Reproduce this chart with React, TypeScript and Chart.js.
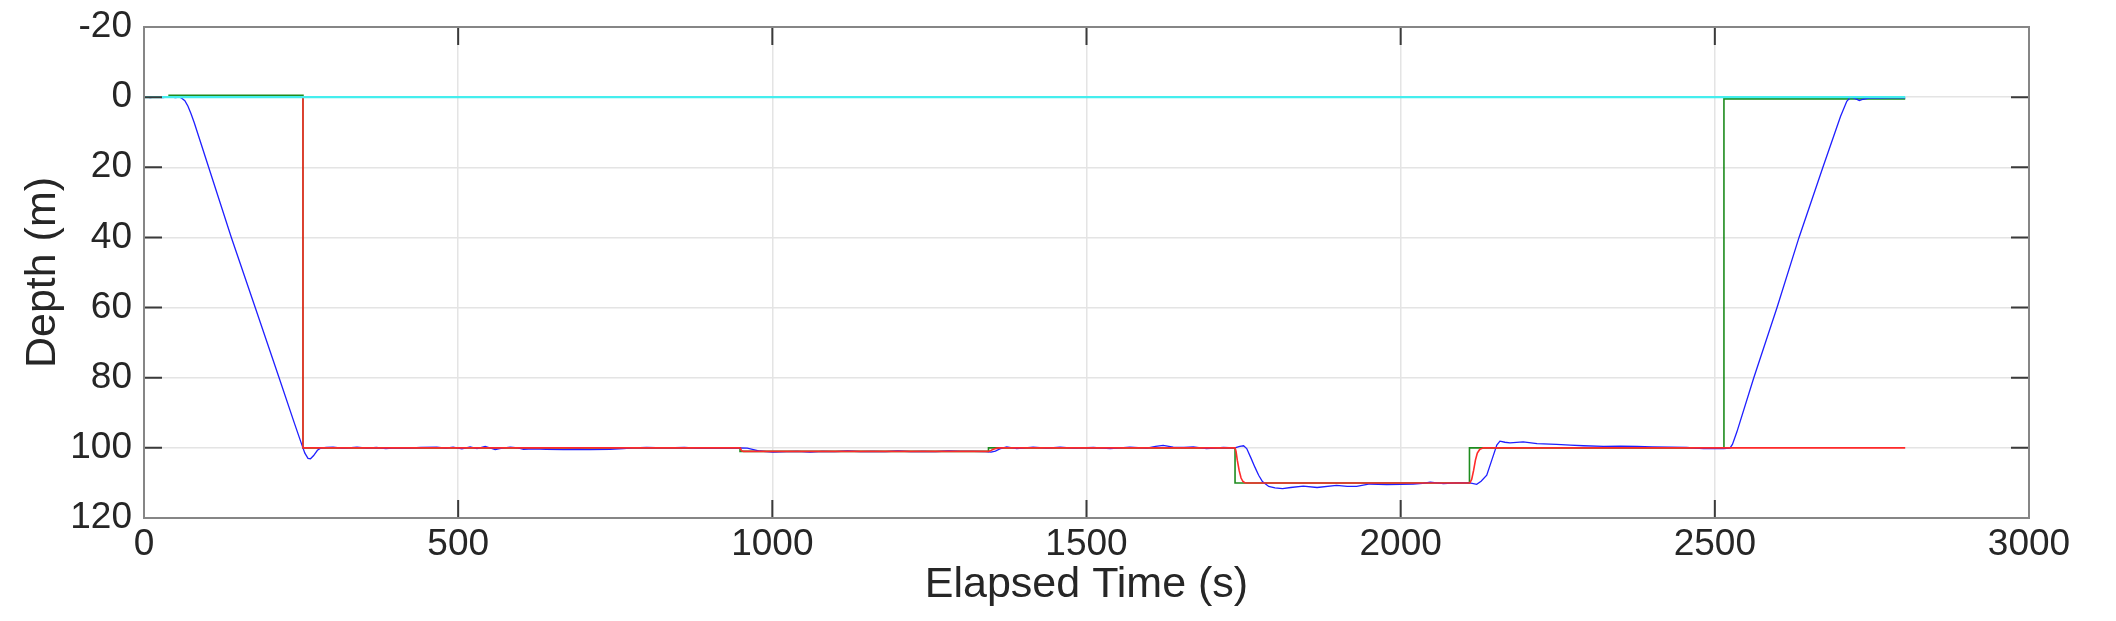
import { useEffect, useRef } from "react";
import { Chart, registerables } from "chart.js";

Chart.register(...registerables);

// measured depth (blue)
const blueTime = [
  0, 10, 20, 30, 40, 50, 57, 60, 65, 70, 75, 80, 102, 139, 177, 215, 240, 250, 256, 261, 265, 270, 276, 281,
  290, 301, 315, 325, 339, 355, 370, 385, 400, 420, 440, 466, 480, 492, 506, 519, 530, 543, 559, 570, 583,
  595, 604, 620, 640, 667, 690, 710, 742, 763, 779, 800, 830, 860, 880, 900, 925, 948, 960, 970, 980, 991,
  1001, 1023, 1040, 1060, 1080, 1100, 1120, 1140, 1160, 1180, 1200, 1220, 1240, 1260, 1280, 1300, 1320,
  1340, 1348, 1355, 1362, 1373, 1389, 1415, 1437, 1458, 1479, 1511, 1538, 1569, 1596, 1610, 1622, 1638,
  1655, 1670, 1691, 1718, 1736, 1744, 1750, 1755, 1762, 1768, 1774, 1780, 1790, 1800, 1812, 1825, 1845,
  1867, 1898, 1915, 1930, 1951, 1978, 2000, 2020, 2035, 2047, 2068, 2089, 2110, 2121, 2128, 2137, 2145,
  2153, 2158, 2166, 2174, 2195, 2217, 2248, 2270, 2291, 2323, 2350, 2376, 2400, 2429, 2455, 2482, 2514,
  2524, 2528, 2535, 2562, 2599, 2634, 2672, 2700, 2710, 2716, 2722, 2730, 2736, 2745, 2760, 2780, 2803,
];
const blueDepth = [
  -0.1, 0.1, -0.1, 0.1, -0.1, 0.1, 0, 0.3, 1.0, 2.6, 4.8, 7.3, 19.5, 40, 60, 80, 93.3, 98.5, 101.5, 103, 103.1,
  102.2, 100.7, 100.1, 99.9, 99.8, 100.1, 100, 99.8, 100.1, 99.9, 100.2, 100, 100.1, 99.9, 99.8, 100.1, 99.8,
  100.3, 99.7, 100.2, 99.6, 100.5, 100.1, 99.8, 100, 100.4, 100.3, 100.4, 100.5, 100.4, 100.5, 100.4, 100.2,
  100, 99.9, 100, 99.9, 100.1, 100, 100.1, 100, 100.1, 100.5, 100.9, 101.1, 101.2, 101.1, 101.0, 101.2,
  101.0, 101.1, 100.9, 101.1, 101.0, 101.1, 100.9, 101.1, 101.0, 101.1, 100.9, 101.0, 101.0, 101.1, 101.2,
  100.9, 100.3, 99.7, 100.2, 99.8, 100.1, 99.8, 100.1, 99.9, 100.2, 99.8, 100.1, 99.6, 99.3, 99.8, 99.9,
  99.7, 100.2, 99.9, 100, 99.6, 99.4, 100.2, 103, 105.5, 107.8, 109.6, 111, 111.4, 111.6, 111.3, 110.9,
  111.3, 110.7, 111, 111, 110.3, 110.5, 110.4, 110.3, 110.1, 109.8, 110.2, 110, 110, 110.4, 109.5, 107.8,
  103.5, 99.2, 98.1, 98.4, 98.6, 98.3, 98.8, 99.0, 99.2, 99.4, 99.6, 99.5, 99.6, 99.7, 99.8, 99.9, 100.2,
  100.2, 100.1, 99, 95.5, 80, 60, 40, 20, 5.5, 1.2, 0, 0.3, 1.0, 0.6, 0.3, 0.3, 0.2, 0.2,
];

// commanded depth (green)
const greenTime = [38.7, 253, 253, 948.6, 948.6, 1344, 1344, 1736.4, 1736.4, 2109.5, 2109.5, 2514.5, 2514.5, 2803];
const greenDepth = [-0.5, -0.5, 100, 100, 101, 101, 100, 100, 110, 110, 100, 100, 0.5, 0.5];

// reference trajectory (red)
const redTime = [
  0, 253, 253, 948.6, 949.5, 951, 954, 1344, 1347, 1350, 1354, 1358, 1362, 1736.5, 1738, 1740, 1743, 1746,
  1749, 1752, 1756, 2110, 2113, 2116, 2119, 2122, 2126, 2132, 2803,
];
const redDepth = [
  0, 0, 100, 100, 100.3, 100.8, 101, 101, 100.85, 100.55, 100.25, 100.08, 100, 100, 101, 103.5, 106.5, 108.6,
  109.6, 109.95, 110, 110, 109, 106.5, 103.5, 101.5, 100.4, 100, 100,
];

// surface (cyan)
const cyanTime = [0, 2803];
const cyanDepth = [0, 0];

const xTicks = [0, 500, 1000, 1500, 2000, 2500, 3000];
const yTicks = [-20, 0, 20, 40, 60, 80, 100, 120];

const FONT = "'Liberation Sans', Arial, Helvetica, sans-serif";
const TEXT = "#262626";

const pts = (xs: number[], ys: number[]) => xs.map((x, i) => ({ x, y: ys[i] }));

// MATLAB-like box with inward ticks on all four sides
const boxPlugin = {
  id: "box",
  afterDatasetsDraw(chart: any) {
    const { ctx, chartArea: a, scales } = chart;
    const len = 18;
    ctx.save();
    ctx.strokeStyle = "#3a3a3a";
    ctx.lineWidth = 2;
    ctx.beginPath();
    for (const v of xTicks) {
      const px = scales.x.getPixelForValue(v);
      ctx.moveTo(px, a.bottom);
      ctx.lineTo(px, a.bottom - len);
      ctx.moveTo(px, a.top);
      ctx.lineTo(px, a.top + len);
    }
    for (const v of yTicks) {
      const py = scales.y.getPixelForValue(v);
      ctx.moveTo(a.left, py);
      ctx.lineTo(a.left + len, py);
      ctx.moveTo(a.right, py);
      ctx.lineTo(a.right - len, py);
    }
    ctx.stroke();
    ctx.strokeStyle = "#868686";
    ctx.lineWidth = 2;
    ctx.strokeRect(a.left, a.top, a.right - a.left, a.bottom - a.top);
    ctx.restore();
  },
};

export default function App() {
  const canvasRef = useRef<HTMLCanvasElement | null>(null);

  useEffect(() => {
    document.body.style.margin = "0";
    if (!canvasRef.current) return;

    const chart = new Chart(canvasRef.current, {
      type: "line",
      data: {
        datasets: [
          { label: "surface", data: pts(cyanTime, cyanDepth), borderColor: "#45eeee", borderWidth: 2.2, order: 0 },
          { label: "reference", data: pts(redTime, redDepth), borderColor: "#ff2a2a", borderWidth: 1.6, order: 1 },
          { label: "depth", data: pts(blueTime, blueDepth), borderColor: "#1f1fff", borderWidth: 1.3, order: 2 },
          { label: "command", data: pts(greenTime, greenDepth), borderColor: "#1e8c1e", borderWidth: 1.6, order: 3 },
        ],
      },
      options: {
        responsive: false,
        animation: false,
        parsing: false,
        layout: { padding: { top: 27, right: 87, left: 0, bottom: 0 } },
        elements: { point: { radius: 0 }, line: { tension: 0, fill: false } },
        plugins: { legend: { display: false }, tooltip: { enabled: false } },
        scales: {
          x: {
            type: "linear",
            min: 0,
            max: 3000,
            afterFit: (s: any) => {
              s.height = 103;
              s.paddingLeft = 0;
              s.paddingRight = 0;
            },
            afterBuildTicks: (s: any) => {
              s.ticks = xTicks.map((v) => ({ value: v }));
            },
            ticks: {
              padding: 5,
              color: TEXT,
              font: { family: FONT, size: 37 },
              maxRotation: 0,
              autoSkip: false,
              callback: (v: any) => String(v),
            },
            grid: { color: "#e4e4e4", lineWidth: 1.5, drawTicks: false },
            border: { display: false },
            title: {
              display: true,
              text: "Elapsed Time (s)",
              color: TEXT,
              font: { family: FONT, size: 43 },
              padding: { top: 0, bottom: 10 },
            },
          },
          y: {
            type: "linear",
            reverse: true,
            min: -20,
            max: 120,
            afterFit: (s: any) => {
              s.width = 144;
              s.paddingTop = 0;
              s.paddingBottom = 0;
            },
            afterBuildTicks: (s: any) => {
              s.ticks = yTicks.map((v) => ({ value: v }));
            },
            ticks: {
              padding: 12,
              color: TEXT,
              font: { family: FONT, size: 37 },
              autoSkip: false,
              callback: (v: any) => String(v),
            },
            grid: { color: "#e4e4e4", lineWidth: 1.5, drawTicks: false },
            border: { display: false },
            title: {
              display: true,
              text: "Depth (m)",
              color: TEXT,
              font: { family: FONT, size: 43 },
              padding: { top: 17, bottom: 0 },
            },
          },
        },
      },
      plugins: [boxPlugin],
    });

    return () => chart.destroy();
  }, []);

  return (
    <div style={{ width: 2116, height: 621, background: "#fff" }}>
      <canvas ref={canvasRef} width={2116} height={621}></canvas>
    </div>
  );
}
